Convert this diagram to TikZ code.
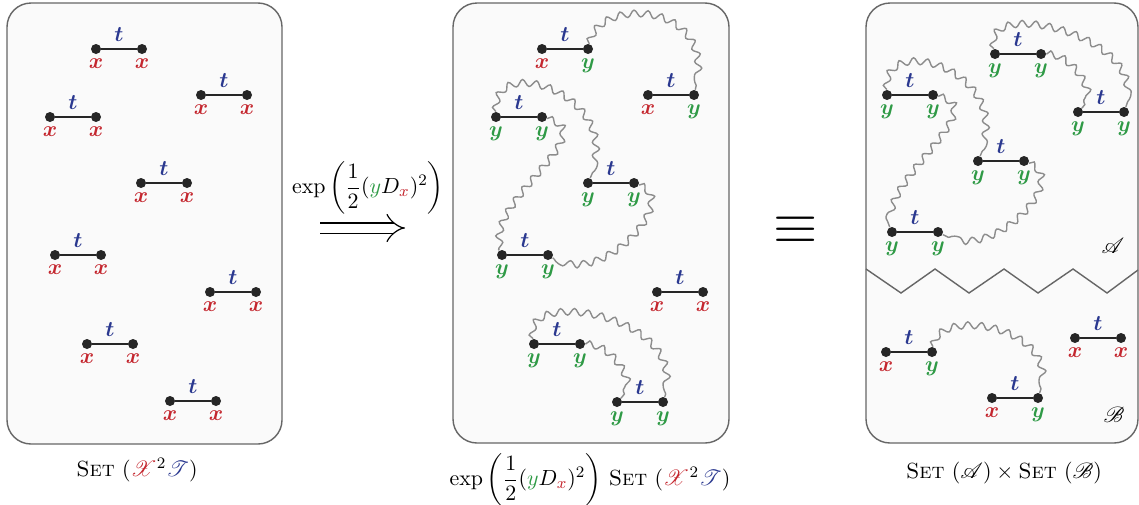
\documentclass[tikz,border=0pt,11pt]{standalone}
\usepackage{amsmath,mathrsfs}
\usetikzlibrary{arrows.meta,decorations.pathmorphing,positioning}
\definecolor{xred}{HTML}{C4262E}
\definecolor{ygreen}{HTML}{2F9A46}
\definecolor{tblue}{HTML}{2B3990}
\newcommand\vx{\textcolor{xred}{$\boldsymbol{x}$}}
\newcommand\vy{\textcolor{ygreen}{$\boldsymbol{y}$}}
\tikzset{panel/.style={draw=black!60, fill=black!2, line width=0.7pt, rounded corners=12pt},
  bond/.style={draw=black!85, line width=1.2pt},
  dot/.style={circle, fill=black!85, inner sep=0pt, minimum size=5pt},
  wavy/.style={draw=black!45, line width=0.7pt, decorate,
    decoration={snake, segment length=6.8pt, amplitude=1.7pt}},
  tlab/.style={text=tblue, inner sep=1pt}}

\begin{document}
\begin{tikzpicture}[x=0.5pt, y=-0.5pt]
  \useasboundingbox (0,0) rectangle (1139,504);
  \draw[panel] (7,3) rectangle (282,444);
  \draw[panel] (453,3) rectangle (729,443);
  \draw[panel] (866,3) rectangle (1138,443);
  % edges: name / left end / labels under the two ends
  \foreach \n/\x/\y/\a/\b in {p1/96/49/\vx/\vx, p2/201/95/\vx/\vx, p3/50/117/\vx/\vx,
      p4/141/183/\vx/\vx, p5/55/255/\vx/\vx, p6/210/292/\vx/\vx, p7/87/344/\vx/\vx,
      p8/170/401/\vx/\vx,
      q1/542/49/\vx/\vy, q2/648/95/\vx/\vy, q3/496/117/\vy/\vy, q4/588/183/\vy/\vy,
      q5/502/255/\vy/\vy, q6/657/292/\vx/\vx, q7/534/344/\vy/\vy, q8/617/402/\vy/\vy,
      a1/887/95/\vy/\vy, a2/995/54/\vy/\vy, a3/1078/112/\vy/\vy, a4/978/161/\vy/\vy,
      a5/892/232/\vy/\vy, b1/886/352/\vx/\vy, b2/1075/338/\vx/\vx, b3/992/398/\vx/\vy}{
    \node[dot] (\n l) at (\x,\y) {};
    \node[dot] (\n r) at (\x+46,\y) {};
    \draw[bond] (\n l) -- (\n r) node[midway, above=2pt, tlab] (\n t) {$\boldsymbol{t}$};
    \node[below=0pt of \n l, inner sep=2pt] (\n a) {\a};
    \node[below=0pt of \n r, inner sep=2pt] (\n b) {\b};
  }
  % pairings of the y ends
  \draw[wavy] (q1r) .. controls (600,0) and (715,5) .. (q2r);
  \draw[wavy] (q3l) .. controls (495,55) and (625,100) .. (q4l);
  \draw[wavy] (q3r) .. controls (600,135) and (475,205) .. (q5l);
  \draw[wavy] (q4r) .. controls (675,200) and (600,285) .. (q5r);
  \draw[wavy] (q7l) .. controls (525,290) and (690,320) .. (q8r);
  \draw[wavy] (q7r) .. controls (610,345) and (635,385) .. (q8l);
  \draw[wavy] (a1l) .. controls (885,35) and (1015,75) .. (a4l);
  \draw[wavy] (a1r) .. controls (990,110) and (870,185) .. (a5l);
  \draw[wavy] (a4r) .. controls (1065,180) and (990,260) .. (a5r);
  \draw[wavy] (a2l) .. controls (985,0) and (1150,40) .. (a3r);
  \draw[wavy] (a2r) .. controls (1070,55) and (1095,95) .. (a3l);
  \draw[wavy] (b1r) .. controls (940,310) and (1060,330) .. (b3r);
  % cut between the two parts
  \draw[draw=black!60, line width=0.7pt] (866,269) -- (901,293) -- (935,269) -- (969,293)
    -- (1004,269) -- (1038,293) -- (1073,269) -- (1107,293) -- (1138,270);
  \node (setA) at (1113,246) {$\mathscr{A}$};
  \node (setB) at (1114,415) {$\mathscr{B}$};
  % operator between the panels
  \node (op) at (368,188) {$\exp\left(\dfrac{1}{2}(\textcolor{ygreen}{y}D_{\textcolor{xred}{x}})^2\right)$};
  \coordinate (arrs) at (320,228);
  \coordinate (arre) at (405,228);
  \draw[double, double distance=4.5pt, line width=0.6pt, -{Implies}] (arrs) -- (arre);
  \node[scale=2.6] (eq) at (796,230) {$\equiv$};
  % captions
  \node (cap1) at (137,470) {\textsc{Set} $(\textcolor{xred}{\mathscr{X}}^2\textcolor{tblue}{\mathscr{T}})$};
  \node (cap2) at (590,480) {$\exp\left(\dfrac{1}{2}(\textcolor{ygreen}{y}D_{\textcolor{xred}{x}})^2\right)$
    \textsc{Set} $(\textcolor{xred}{\mathscr{X}}^2\textcolor{tblue}{\mathscr{T}})$};
  \node (cap3) at (1004,473) {\textsc{Set} $(\mathscr{A})\times{}$\textsc{Set} $(\mathscr{B})$};
\end{tikzpicture}
\end{document}
